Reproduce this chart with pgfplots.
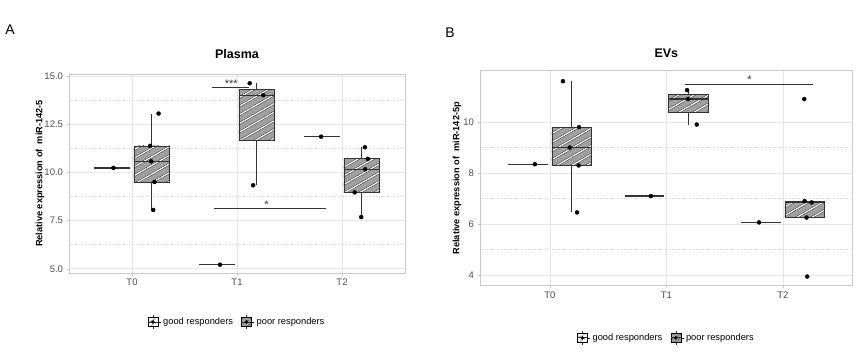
\documentclass[border=0pt]{standalone}
\usepackage{pgfplots}
\pgfplotsset{compat=1.18}
\usetikzlibrary{patterns.meta}
\usepackage{fontspec}
\setmainfont{Liberation Sans}
\definecolor{boxgray}{HTML}{A0A0A0}
\definecolor{linegray}{HTML}{333333}
\definecolor{ticklab}{HTML}{4D4D4D}
\definecolor{bordercol}{HTML}{C8C8CE}
\definecolor{gridc}{HTML}{E6E6E6}
\definecolor{gridm}{HTML}{D2D2D8}

\pgfplotsset{
  goodkey/.style={legend image code/.code={
    \path (0pt,0pt) -- (13pt,0pt);
    \draw[linegray, line width=0.5pt] (5pt,-7pt) -- (5pt,7pt);
    \draw[linegray, line width=0.5pt, fill=white] (0pt,-4.5pt) rectangle (10pt,4.5pt);
    \path[pattern={Lines[angle=30,distance=4pt,line width=0.7pt]}, pattern color=linegray] (0pt,-4.5pt) rectangle (10pt,4.5pt);
    \draw[linegray, line width=0.9pt] (0pt,0pt) -- (10pt,0pt);
    \fill[black] (5pt,0pt) circle (1.6pt);}},
  poorkey/.style={legend image code/.code={
    \path (0pt,0pt) -- (13pt,0pt);
    \draw[linegray, line width=0.5pt] (5pt,-7pt) -- (5pt,7pt);
    \draw[linegray, line width=0.5pt, fill=boxgray] (0pt,-4.5pt) rectangle (10pt,4.5pt);
    \path[pattern={Lines[angle=30,distance=4pt,line width=0.7pt]}, pattern color=linegray] (0pt,-4.5pt) rectangle (10pt,4.5pt);
    \draw[linegray, line width=0.9pt] (0pt,0pt) -- (10pt,0pt);
    \fill[black] (5pt,0pt) circle (1.6pt);}},
  myaxis/.style={
    scale only axis,
    xmin=0.4, xmax=3.6,
    xtick={1,2,3}, xticklabels={T0,T1,T2},
    tick align=outside, xtick pos=left, ytick pos=left,
    major tick length=2.5pt, minor tick length=0pt,
    tick style={color=bordercol, line width=0.5pt},
    axis line style={color=bordercol, line width=0.8pt},
    grid=both,
    major grid style={color=gridc, line width=0.6pt},
    minor grid style={color=gridm, dotted, line width=0.5pt},
    minor y tick num=1,
    ticklabel style={font=\fontsize{9.5}{11}\selectfont, color=ticklab},
    /pgf/number format/assume math mode=true,
    every axis title/.style={at={(0.5,1)}, anchor=center, font=\bfseries\fontsize{12.5}{14}\selectfont},
    legend style={draw=none, fill=none, font=\fontsize{9.3}{11}\selectfont, anchor=center,
      /tikz/every even column/.append style={column sep=6pt}},
    legend columns=2,
    legend cell align=left,
  },
  boxsty/.style={draw=linegray, line width=0.6pt, line join=miter, forget plot,
      preaction={fill=boxgray},
      preaction={pattern={Lines[angle=30,distance=7.5pt,line width=2.2pt]}, pattern color=linegray},
      preaction={pattern={Lines[angle=30,distance=7.5pt,line width=1.2pt]}, pattern color=white}},
  whisk/.style={draw=linegray, line width=0.6pt, forget plot},
  med/.style={draw=linegray, line width=1.3pt, forget plot},
  pts/.style={only marks, mark=*, mark size=2pt, black, forget plot},
  sig/.style={linegray, line width=0.8pt, forget plot},
}

\begin{document}
\begin{tikzpicture}
\useasboundingbox (0pt,0pt) rectangle (857pt,357pt);
\node[font=\fontsize{14}{16}\selectfont, anchor=center] at (10pt,327pt) {A};
\node[font=\fontsize{14}{16}\selectfont, anchor=center] at (450pt,324pt) {B};

% ---------------- Panel A: Plasma ----------------
\begin{axis}[myaxis,
  at={(69pt,84pt)}, anchor=south west,
  width=336pt, height=199pt,
  ymin=4.78, ymax=15.1,
  ytick={5,7.5,10,12.5,15},
  yticklabel style={/pgf/number format/.cd, fixed, fixed zerofill, precision=1},
  title={Plasma}, title style={yshift=20pt},
  ylabel={Relative expression of\ \ miR-142-5},
  every axis y label/.style={at={(axis description cs:-0.0863,0.5)}, rotate=90, anchor=center,
    font=\bfseries\fontsize{9.2}{11}\selectfont},
  legend style={at={(0.5,-0.246)}},
]
% good responders (single values -> flat boxes)
\addplot[med] coordinates {(0.6425,10.23) (0.9825,10.23)};
\addplot[med] coordinates {(1.6425,5.21) (1.9825,5.21)};
\addplot[med] coordinates {(2.6425,11.85) (2.9825,11.85)};
% poor responders: whiskers
\addplot[whisk] coordinates {(1.1875,8.05) (1.1875,13.03)};
\addplot[whisk] coordinates {(2.1875,9.33) (2.1875,14.62)};
\addplot[whisk] coordinates {(3.1875,7.68) (3.1875,11.32)};
% boxes
\addplot[boxsty] coordinates {(1.0175,9.50) (1.3575,9.50) (1.3575,11.37) (1.0175,11.37) (1.0175,9.50)};
\addplot[boxsty] coordinates {(2.0175,11.66) (2.3575,11.66) (2.3575,14.31) (2.0175,14.31) (2.0175,11.66)};
\addplot[boxsty] coordinates {(3.0175,8.96) (3.3575,8.96) (3.3575,10.71) (3.0175,10.71) (3.0175,8.96)};
% medians
\addplot[med] coordinates {(1.0175,10.57) (1.3575,10.57)};
\addplot[med] coordinates {(2.0175,13.98) (2.3575,13.98)};
\addplot[med] coordinates {(3.0175,10.16) (3.3575,10.16)};
% points
\addplot[pts] coordinates {(0.823,10.23) (1.839,5.21) (2.801,11.85)};
\addplot[pts] coordinates {(1.173,11.37) (1.183,10.57) (1.214,9.50) (1.202,8.05) (1.253,13.05)
  (2.121,14.62) (2.250,14.00) (2.154,9.33)
  (3.218,11.30) (3.246,10.70) (3.221,10.16) (3.121,8.96) (3.183,7.68)};
% significance
\addplot[sig] coordinates {(1.76,14.43) (2.11,14.43)};
\node[font=\fontsize{11}{12}\selectfont, text=linegray] at (axis cs:1.945,14.58) {***};
\addplot[sig] coordinates {(1.785,8.15) (2.85,8.15)};
\node[font=\fontsize{11}{12}\selectfont, text=linegray] at (axis cs:2.28,8.32) {*};
\addlegendimage{goodkey}\addlegendentry{good responders}
\addlegendimage{poorkey}\addlegendentry{poor responders}
\end{axis}

% ---------------- Panel B: EVs ----------------
\begin{axis}[myaxis,
  at={(480pt,71.3pt)}, anchor=south west,
  width=372.7pt, height=215pt,
  ymin=3.59, ymax=12.01,
  ytick={4,6,8,10},
  title={EVs}, title style={yshift=17.4pt},
  ylabel={Relative expression of\ \ miR-142-5p},
  every axis y label/.style={at={(axis description cs:-0.0617,0.5)}, rotate=90, anchor=center,
    font=\bfseries\fontsize{9.2}{11}\selectfont},
  legend style={at={(0.5,-0.243)}},
]
\addplot[med] coordinates {(0.6425,8.35) (0.9825,8.35)};
\addplot[med] coordinates {(1.6425,7.10) (1.9825,7.10)};
\addplot[med] coordinates {(2.6425,6.07) (2.9825,6.07)};
\addplot[whisk] coordinates {(1.1875,6.46) (1.1875,11.61)};
\addplot[whisk] coordinates {(2.1875,9.90) (2.1875,11.25)};
\addplot[boxsty] coordinates {(1.0175,8.30) (1.3575,8.30) (1.3575,9.79) (1.0175,9.79) (1.0175,8.30)};
\addplot[boxsty] coordinates {(2.0175,10.39) (2.3575,10.39) (2.3575,11.07) (2.0175,11.07) (2.0175,10.39)};
\addplot[boxsty] coordinates {(3.0175,6.26) (3.3575,6.26) (3.3575,6.90) (3.0175,6.90) (3.0175,6.26)};
\addplot[med] coordinates {(1.0175,9.01) (1.3575,9.01)};
\addplot[med] coordinates {(2.0175,10.90) (2.3575,10.90)};
\addplot[med] coordinates {(3.0175,6.87) (3.3575,6.87)};
\addplot[pts] coordinates {(0.871,8.35) (1.868,7.10) (2.796,6.07)};
\addplot[pts] coordinates {(1.112,11.60) (1.250,9.80) (1.170,9.00) (1.247,8.30) (1.233,6.46)
  (2.178,11.25) (2.187,10.90) (2.261,9.90)
  (3.184,10.90) (3.187,6.90) (3.247,6.85) (3.204,6.26) (3.210,3.95)};
\addplot[sig] coordinates {(2.16,11.48) (3.26,11.48)};
\node[font=\fontsize{11}{12}\selectfont, text=linegray] at (axis cs:2.715,11.64) {*};
\addlegendimage{goodkey}\addlegendentry{good responders}
\addlegendimage{poorkey}\addlegendentry{poor responders}
\end{axis}
\end{tikzpicture}
\end{document}
